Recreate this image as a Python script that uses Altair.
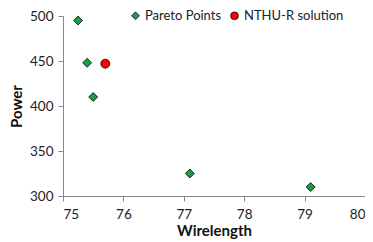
import altair as alt
import pandas as pd

series = ["Pareto Points"] * 5 + ["NTHU-R solution"]
wirelength = [75.25, 75.4, 75.5, 77.1, 79.1, 75.7]
power = [495, 448, 410, 325, 310, 447]

df = pd.DataFrame({"series": series, "Wirelength": wirelength, "Power": power})

font = "Lato"
order = ["Pareto Points", "NTHU-R solution"]

chart = alt.Chart(df).mark_point(filled=True, stroke="black", strokeWidth=0.8, opacity=1, size=80).encode(
    x=alt.X("Wirelength:Q", scale=alt.Scale(domain=[75, 80], nice=False, zero=False),
            axis=alt.Axis(values=[75, 76, 77, 78, 79, 80], title="Wirelength", grid=False,
                          tickSize=5, labelPadding=6, titlePadding=3)),
    y=alt.Y("Power:Q", scale=alt.Scale(domain=[300, 500], nice=False, zero=False),
            axis=alt.Axis(values=[300, 350, 400, 450, 500], title="Power", grid=False,
                          tickSize=5, labelPadding=5, titlePadding=5)),
    color=alt.Color("series:N", scale=alt.Scale(domain=order, range=["#1a9c4a", "#ff0000"]),
                    legend=alt.Legend(title=None, orient="none", legendX=66, legendY=-7,
                                      direction="horizontal", symbolStrokeColor="black",
                                      symbolStrokeWidth=0.8, symbolSize=60, labelFontSize=13,
                                      labelFont=font, labelColor="#222", columnPadding=6,
                                      symbolOffset=0, labelOffset=3, padding=0)),
    shape=alt.Shape("series:N", scale=alt.Scale(domain=order, range=["diamond", "circle"]), legend=None),
).properties(
    width=302, height=180,
    autosize=alt.AutoSizeParams(type="none"),
    padding={"left": 55, "top": 8, "right": 0, "bottom": 44},
).configure_view(stroke=None).configure_axis(
    domainColor="#888", tickColor="#888", labelFont=font, titleFont=font,
    labelFontSize=13.5, titleFontSize=15, labelColor="#222", titleColor="#111",
    titleFontWeight="bold", labelFontWeight="normal"
)

chart.save("out.html", embed_options={"renderer": "svg", "actions": False})
